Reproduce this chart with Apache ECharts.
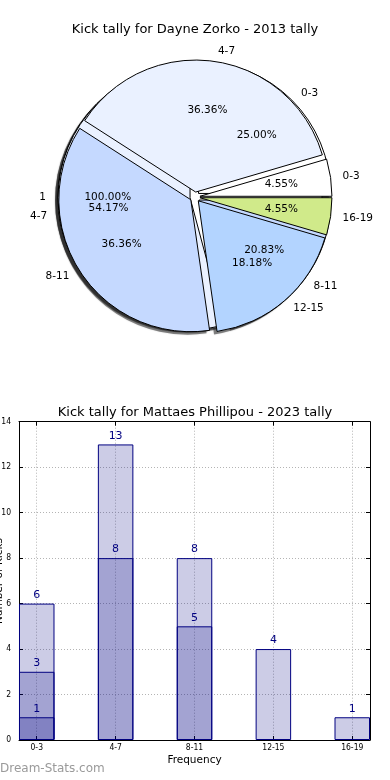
<!DOCTYPE html>
<html>
<head>
<meta charset="utf-8">
<script src="https://cdn.jsdelivr.net/npm/echarts@6/dist/echarts.min.js"></script>
<style>
html,body{margin:0;padding:0;background:#fff;}
#chart{width:390px;height:780px;}
</style>
</head>
<body>
<div id="chart"></div>
<script>
// ---- data ----
const pieTitle = 'Kick tally for Dayne Zorko - 2013 tally';
const barTitle = 'Kick tally for Mattaes Phillipou - 2023 tally';

const pieACategories = ['0-3', '4-7', '8-11', '12-15', '16-19'];
const pieAValues = [1, 8, 8, 4, 1];
const pieBCategories = ['0-3', '4-7', '8-11'];
const pieBValues = [6, 13, 5];
const pieCCategories = ['1'];
const pieCValues = [1];

const barCategories = ['0-3', '4-7', '8-11', '12-15', '16-19'];
const barValuesA = [6, 13, 8, 4, 1];
const barValuesB = [3, 8, 5, null, null];
const barValuesC = [1, null, null, null, null];
const yTicks = [0, 2, 4, 6, 8, 10, 12, 14];

const xAxisName = 'Frequency';
const yAxisName = 'Number of Kicks';
const watermark = 'Dream-Stats.com';

// ---- styles ----
const sliceColors = {
  '0-3': '#ffffff', '4-7': '#eaf1ff', '8-11': '#c5d9ff',
  '12-15': '#b3d4ff', '16-19': '#d0ea8a', '1': '#ffffff'
};
const FONT = 'DejaVu Sans';
const SMALL_FONT = "'DejaVu Sans Condensed', 'DejaVu Sans'";
const PIE_CENTER = [195, 197];
const SHADOW_CENTER = [PIE_CENTER[0] - 3, PIE_CENTER[1] + 3];
const R = 132;
const EXPLODE = 5;

function pieSeries(cats, vals, name) {
  const base = {
    type: 'pie', radius: R, startAngle: 0, clockwise: false,
    selectedMode: 'multiple', selectedOffset: EXPLODE,
    avoidLabelOverlap: false, silent: true,
    labelLayout: { hideOverlap: false },
    emphasis: { disabled: true }
  };
  const shadow = Object.assign({}, base, {
    name: name + ' shadow', center: SHADOW_CENTER, z: 0,
    data: cats.map((c, i) => ({ name: c, value: vals[i], selected: true })),
    itemStyle: { color: 'rgba(40,40,40,0.5)', borderWidth: 0, shadowBlur: 1.5, shadowColor: 'rgba(0,0,0,0.4)' },
    label: { show: false }, labelLine: { show: false }
  });
  const sectors = Object.assign({}, base, {
    name: name, center: PIE_CENTER, z: 1,
    data: cats.map((c, i) => ({
      name: c, value: vals[i], selected: true,
      itemStyle: { color: sliceColors[c] }
    })),
    itemStyle: { borderColor: '#000', borderWidth: 1 },
    label: {
      show: true, position: 'outside', formatter: '{b}',
      fontSize: 10.5, color: '#000', fontFamily: FONT,
      distanceToLabelLine: 2
    },
    labelLine: { show: false, length: 10, length2: 0 }
  });
  const pct = Object.assign({}, base, {
    name: name + ' pct', center: PIE_CENTER, radius: [R * 0.2, R], z: 5,
    data: cats.map((c, i) => ({ name: c, value: vals[i], selected: true })),
    itemStyle: { color: 'rgba(0,0,0,0)', borderWidth: 0 },
    label: {
      show: true, position: 'inside',
      formatter: p => p.percent.toFixed(2) + '%',
      fontSize: 10.5, color: '#000', fontFamily: FONT
    },
    labelLine: { show: false }
  });
  return { shadow, sectors, pct };
}

function barSeries(vals, name) {
  return {
    type: 'bar', name: name, xAxisIndex: 0, yAxisIndex: 0,
    data: vals.map((v, i) => v == null ? null : [i, v]).filter(Boolean),
    barWidth: 35.5, barGap: '-100%',
    itemStyle: { color: 'rgba(0,0,128,0.2)', borderColor: '#000080', borderWidth: 1 },
    label: {
      show: true, position: 'top', distance: 3,
      color: '#000080', fontSize: 11, fontFamily: FONT,
      formatter: p => p.value[1]
    },
    emphasis: { disabled: true },
    silent: true
  };
}

const pieC = pieSeries(pieCCategories, pieCValues, 'pieC');
const pieB = pieSeries(pieBCategories, pieBValues, 'pieB');
const pieA = pieSeries(pieACategories, pieAValues, 'pieA');

const catIdx = barCategories.map((c, i) => i);
const tickStyle = { color: '#000', width: 1 };
const gridLine = { show: true, lineStyle: { color: '#b4b4b4', type: [1, 2], width: 1 } };

const option = {
  animation: false,
  backgroundColor: '#fff',
  title: [
    { text: pieTitle, left: 'center', top: 18.5,
      textStyle: { fontSize: 13, fontWeight: 'normal', color: '#000', fontFamily: FONT } },
    { text: barTitle, left: 'center', top: 401.5,
      textStyle: { fontSize: 13, fontWeight: 'normal', color: '#000', fontFamily: FONT } }
  ],
  grid: { left: 19, right: 20, top: 421.7, bottom: 40, containLabel: false, outerBoundsMode: 'none' },
  xAxis: [
    {
      type: 'value', position: 'bottom', min: -0.225, max: 4.225,
      axisLine: { show: true, onZero: false, lineStyle: tickStyle },
      axisTick: { show: true, inside: true, length: 4, customValues: catIdx, lineStyle: tickStyle },
      axisLabel: { show: true, customValues: catIdx, formatter: v => barCategories[Math.round(v)],
        fontSize: 8.5, fontFamily: SMALL_FONT, color: '#000', margin: 3 },
      splitLine: gridLine,
      name: xAxisName, nameLocation: 'middle', nameGap: 15, nameMoveOverlap: false,
      nameTextStyle: { fontSize: 10.5, fontFamily: FONT, color: '#000' }
    },
    {
      type: 'value', position: 'top', min: -0.225, max: 4.225,
      axisLine: { show: true, onZero: false, lineStyle: tickStyle },
      axisTick: { show: true, inside: true, length: 4, customValues: catIdx, lineStyle: tickStyle },
      axisLabel: { show: false }, splitLine: { show: false }
    }
  ],
  yAxis: [
    {
      type: 'value', position: 'left', min: yTicks[0], max: yTicks[yTicks.length - 1], interval: 2,
      axisLine: { show: true, onZero: false, lineStyle: tickStyle },
      axisTick: { show: true, inside: true, length: 4, lineStyle: tickStyle },
      axisLabel: { show: true, fontSize: 8.5, fontFamily: SMALL_FONT, color: '#000', margin: 8 },
      splitLine: gridLine
    },
    {
      type: 'value', position: 'right', min: yTicks[0], max: yTicks[yTicks.length - 1], interval: 2,
      axisLine: { show: true, onZero: false, lineStyle: tickStyle },
      axisTick: { show: true, inside: true, length: 4, lineStyle: tickStyle },
      axisLabel: { show: false }, splitLine: { show: false }
    }
  ],
  graphic: [
    { type: 'text', left: 0, top: 763,
      style: { text: watermark, fill: '#9a9a9a', font: '12px "DejaVu Sans"' } },
    { type: 'text', x: -1, y: 581, rotation: Math.PI / 2, z: 10,
      style: { text: yAxisName, fill: '#000', font: '10.5px "DejaVu Sans"', align: 'center', verticalAlign: 'middle' } }
  ],
  series: [
    pieC.shadow, pieB.shadow, pieA.shadow,
    pieC.sectors, pieB.sectors, pieA.sectors,
    pieC.pct, pieB.pct, pieA.pct,
    barSeries(barValuesA, 'A'),
    barSeries(barValuesB, 'B'),
    barSeries(barValuesC, 'C')
  ]
};

const chart = echarts.init(document.getElementById('chart'), null, { renderer: 'canvas' });
chart.setOption(option);
</script>
</body>
</html>
